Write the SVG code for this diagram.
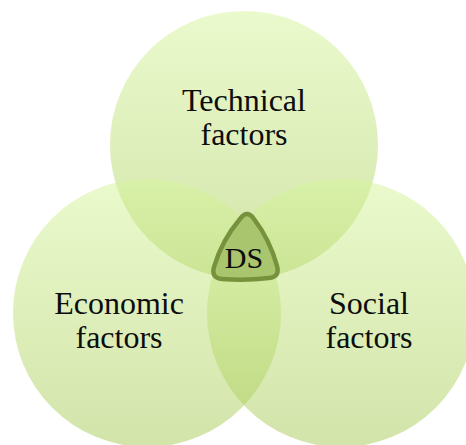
<svg xmlns="http://www.w3.org/2000/svg" width="466" height="445" viewBox="0 0 466 445">
  <defs>
    <linearGradient id="circleFill" x1="0" y1="0" x2="0" y2="1">
      <stop offset="0" stop-color="#d5f59a"/>
      <stop offset="1" stop-color="#a6c955"/>
    </linearGradient>
  </defs>
  <style>
    .venn { fill: url(#circleFill); fill-opacity: 0.5; stroke: none; }
    .label { font-family: "Liberation Serif", "Times New Roman", serif; font-size: 32px; fill: #0d0d0d; text-anchor: middle; }
    .core { fill: #a9c56e; stroke: #76923c; stroke-width: 4.5; stroke-linejoin: round; }
    .core-label { font-size: 30px; }
  </style>
  <rect width="466" height="445" fill="#ffffff"/>

  <g id="technical">
    <circle class="venn" cx="244" cy="145" r="134"/>
    <text class="label" x="244" y="111">Technical</text>
    <text class="label" x="244" y="145">factors</text>
  </g>

  <g id="economic">
    <circle class="venn" cx="147" cy="313" r="134"/>
    <text class="label" x="119" y="314">Economic</text>
    <text class="label" x="119" y="348">factors</text>
  </g>

  <g id="social">
    <circle class="venn" cx="341" cy="313" r="134"/>
    <text class="label" x="369" y="314">Social</text>
    <text class="label" x="369" y="348">factors</text>
  </g>

  <g id="connectors"></g>

  <g id="ds">
    <path class="core" d="M 240,219 Q 247,209 254,219 Q 270,240 277,266 Q 280,277 269,278 Q 245,281 222,279 Q 211,278 214,267 Q 222,240 240,219 Z"/>
    <text class="label core-label" x="244" y="268">DS</text>
  </g>
</svg>
